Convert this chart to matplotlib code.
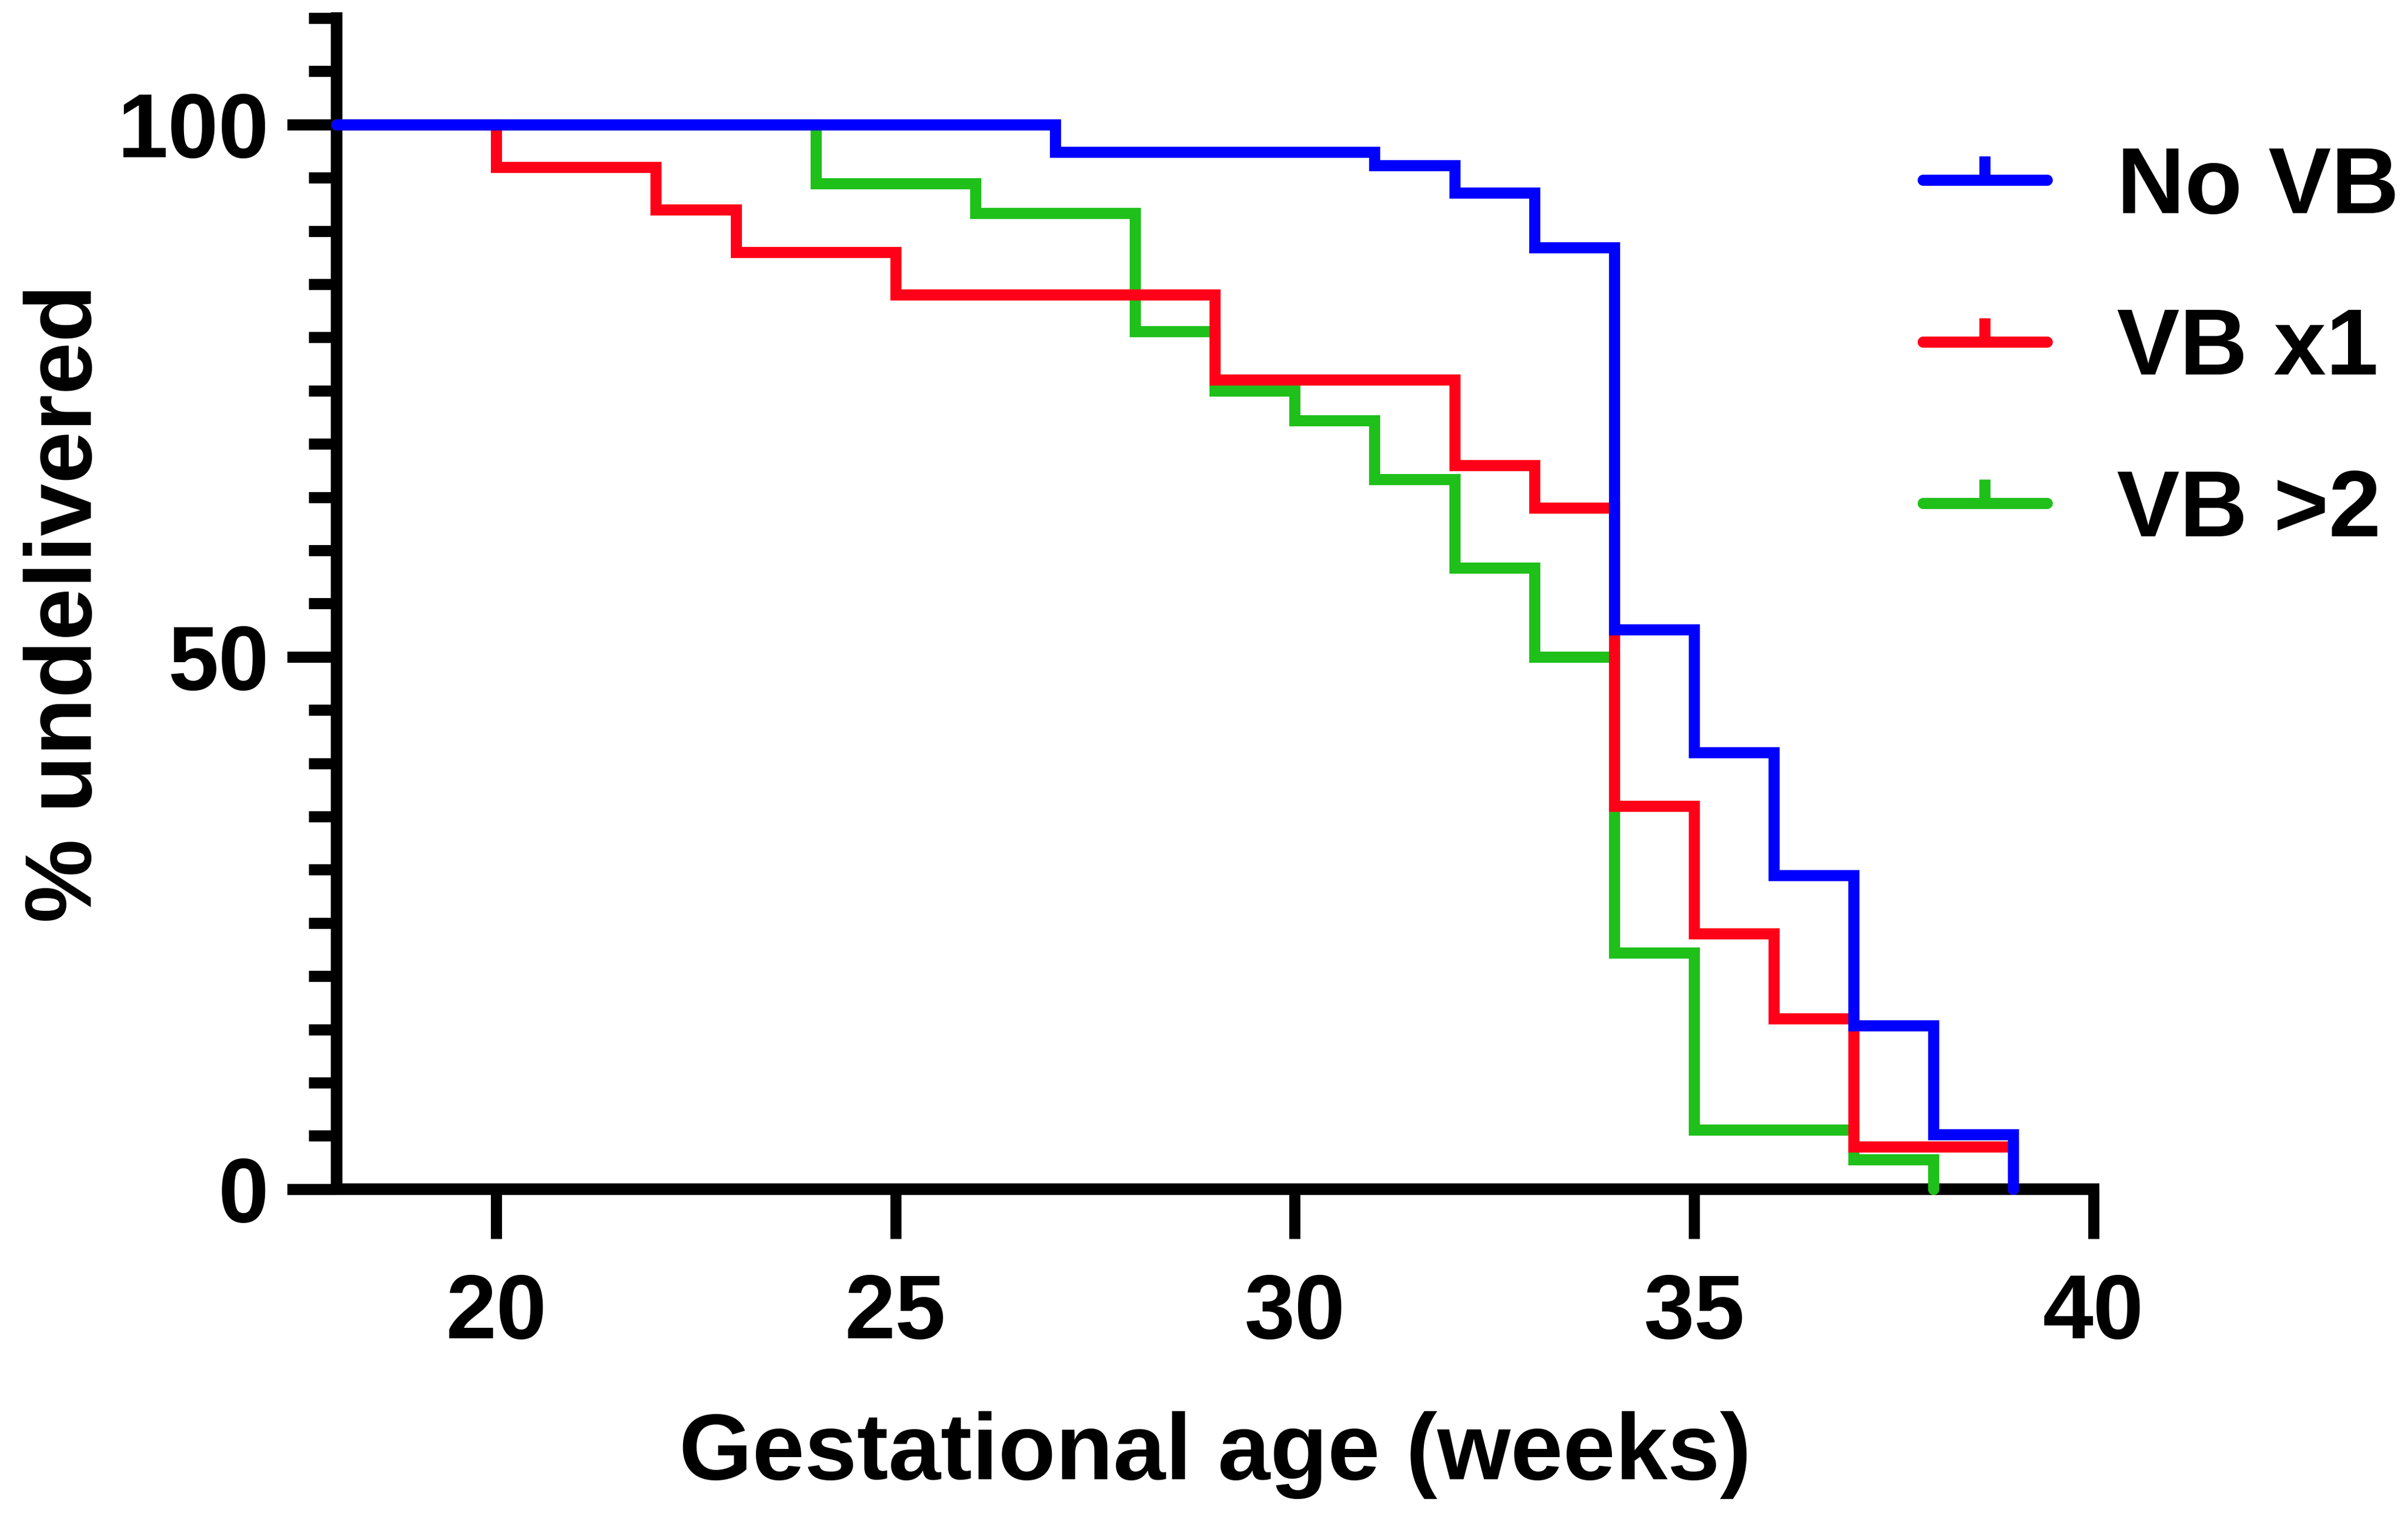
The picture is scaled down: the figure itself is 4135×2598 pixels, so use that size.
import numpy as np
import matplotlib
matplotlib.use("Agg")
import matplotlib.pyplot as plt
from matplotlib.lines import Line2D
from matplotlib.path import Path

plt.rcParams['font.family'] = ['Liberation Sans', 'DejaVu Sans']
plt.rcParams['font.weight'] = 'bold'

# Kaplan-Meier style curves (weeks, % undelivered)
no_vb_weeks = [18, 27, 31, 32, 33, 34, 35, 36, 37, 38, 39]
no_vb_pct = [100, 97.44, 96.15, 93.59, 88.46, 52.56, 41.03, 29.49, 15.38, 5.13, 0]

vb1_weeks = [18, 20, 22, 23, 25, 29, 32, 33, 34, 35, 36, 37, 39]
vb1_pct = [100, 96, 92, 88, 84, 76, 68, 64, 36, 24, 16, 4, 0]

vb2_weeks = [18, 24, 26, 28, 29, 30, 31, 32, 33, 34, 35, 37, 38]
vb2_pct = [100, 94.44, 91.67, 80.56, 75.0, 72.22, 66.67, 58.33, 50.0, 22.22, 5.56, 2.78, 0]

labels = ["No VB", "VB x1", "VB >2"]
colors = ["#0000ff", "#ff0019", "#1fc01a"]

x_ticks = [20, 25, 30, 35, 40]
y_ticks = [0, 50, 100]

W, H, DPI = 4135, 2598, 300
fig = plt.figure(figsize=(W / DPI, H / DPI), dpi=DPI)
ax = fig.add_axes([578 / W, (H - 2041.7) / H, (3594.5 - 578) / W, (2041.7 - 31) / H])

LW = 4.6
LABEL_FS = 38.8
series = [(vb2_weeks, vb2_pct), (vb1_weeks, vb1_pct), (no_vb_weeks, no_vb_pct)]
# draw green first, blue on top like the original
for (wk, pct), color in zip(series, colors[::-1]):
    ax.step(wk, pct, where='post', color=color, lw=LW, zorder=3, clip_on=False,
            solid_capstyle='round', solid_joinstyle='miter')

ax.set_xlim(18, 40)
ax.set_ylim(0, 110)
ax.set_xticks(x_ticks)
ax.set_yticks(y_ticks)
ax.set_yticks([v for v in np.arange(5, 111, 5) if v not in y_ticks], minor=True)

for side in ['top', 'right']:
    ax.spines[side].set_visible(False)
for side in ['left', 'bottom']:
    ax.spines[side].set_linewidth(4.8)

ax.tick_params(which='major', direction='out', length=20.5, width=4.6, labelsize=37.5, color='black')
ax.tick_params(which='minor', direction='out', length=11.5, width=4.6)
ax.tick_params(axis='x', pad=14)
ax.tick_params(axis='y', pad=7.5)
for lbl in ax.get_xticklabels() + ax.get_yticklabels():
    lbl.set_fontweight('bold')

ax.set_xlabel("Gestational age (weeks)", fontsize=LABEL_FS, fontweight='bold', va='baseline')
ax.xaxis.set_label_coords(0.5, (2041.7 - 2540) / (2041.7 - 31))
ax.set_ylabel("% undelivered", fontsize=LABEL_FS, fontweight='bold', va='baseline')
ax.yaxis.set_label_coords((157 - 578) / (3594.5 - 578), 0.5)

# legend with the little censor tick on top of each line
tick_marker = Path([(0, 0), (0, 1)])
handles = [Line2D([], [], color=c, lw=LW, solid_capstyle='round', marker=tick_marker,
                  markersize=19.7, markeredgewidth=LW, markeredgecolor=c)
           for c in colors]
leg = ax.legend(handles, labels, loc='upper left', bbox_to_anchor=(3302 / W, 1 - 248.6 / H),
                bbox_transform=fig.transFigure, frameon=False, fontsize=LABEL_FS,
                handlelength=1.317, handletextpad=0.742, labelspacing=0.783,
                borderpad=0, borderaxespad=0, numpoints=1)
for t in leg.get_texts():
    t.set_fontweight('bold')

fig.savefig("out.png", dpi=DPI)
